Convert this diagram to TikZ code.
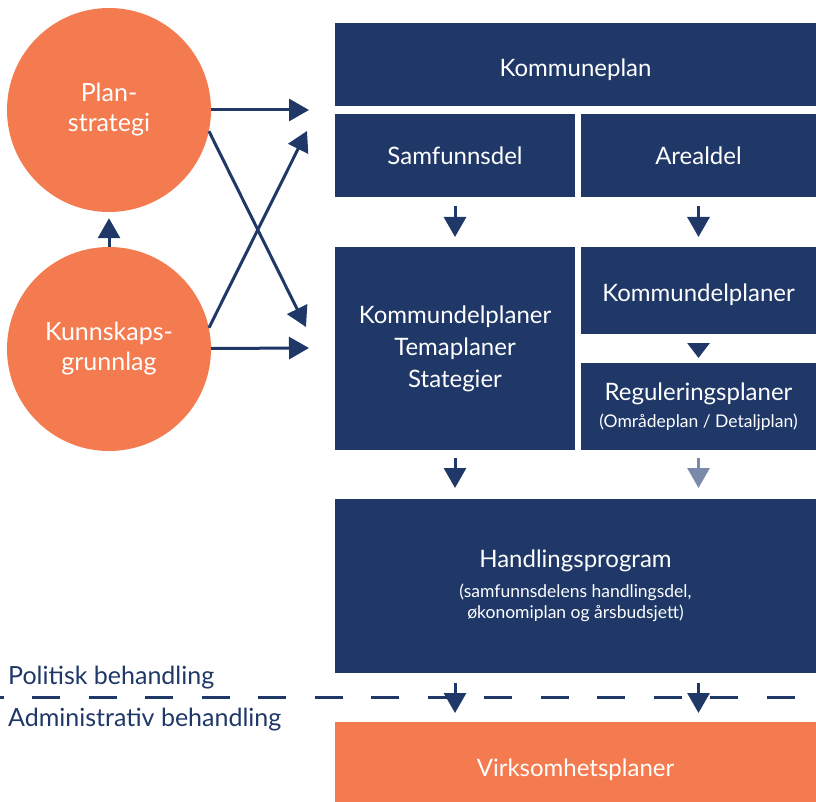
\documentclass[tikz,border=0pt]{standalone}
\usepackage{fontspec}
\setmainfont{Lato}
\usepackage{tikz}
\usetikzlibrary{arrows.meta}

\definecolor{navy}{HTML}{1F3868}
\definecolor{orng}{HTML}{F37B4F}
\definecolor{greyblue}{HTML}{7B8AAA}

\newcommand{\bigtxt}[1]{{\fontsize{24}{28}\selectfont #1}}
\newcommand{\lowtxt}[2]{\raisebox{-#1}[\height][\depth]{#2}}

\tikzset{
  box/.style={fill=navy, text=white, inner sep=0pt, outer sep=0pt,
    anchor=north west, align=center, font=\fontsize{24}{32}\selectfont},
  subbox/.style={box, font=\fontsize{17.5}{21}\selectfont},
  obox/.style={box, fill=orng},
  circ/.style={circle, fill=orng, text=white, minimum size=204pt,
    inner sep=0pt, align=center, font=\fontsize{25}{30}\selectfont},
  arr/.style={navy, line width=3pt, -{Triangle[width=22pt,length=20pt]}},
  side/.style={text=navy, anchor=west, inner sep=0pt,
    font=\fontsize{25}{28}\selectfont}
}

\begin{document}
\begin{tikzpicture}[x=1pt, y=-1pt]
      \useasboundingbox (0,0) rectangle (816,802);
      % boxes
      \node[box, minimum width=481pt, minimum height=83pt] (kplan) at (335,23) {\lowtxt{5pt}{Kommuneplan}};
      \node[box, minimum width=240pt, minimum height=83pt] (samf) at (335,114) {Samfunnsdel};
      \node[box, minimum width=235pt, minimum height=83pt] (areal) at (581,114) {Arealdel};
      \node[box, minimum width=240pt, minimum height=203pt] (tema) at (335,247) {Kommundelplaner\\Temaplaner\\Stategier};
      \node[box, minimum width=235pt, minimum height=87pt] (kdp) at (581,247) {\lowtxt{4pt}{Kommundelplaner}};
      \node[subbox, minimum width=235pt, minimum height=87pt] (reg) at (581,363)
        {\bigtxt{Reguleringsplaner}\\[6pt](Områdeplan / Detaljplan)};
      \node[subbox, minimum width=481pt, minimum height=174pt] (hand) at (335,499)
        {\bigtxt{Handlingsprogram}\\[9pt](samfunnsdelens handlingsdel,\\økonomiplan og årsbudsjett)};
      \node[obox, minimum width=481pt, minimum height=92pt] (virk) at (335,722) {\lowtxt{2pt}{Virksomhetsplaner}};

      % circles
      \node[circ] (plan) at (109,110) {Plan-\\strategi};
      \node[circ] (kunn) at (109,349) {Kunnskaps-\\grunnlag};

      \coordinate (in1) at (309,110);
      \coordinate (in2) at (307,131);
      \coordinate (in3) at (306,327);
      \coordinate (in4) at (309,348);

      \draw[arr, shorten >=6pt] (kunn) -- (plan);
      \draw[arr] (plan) -- (in1);
      \draw[arr] (plan.-12) -- (in3);
      \draw[arr] (kunn.12) -- (in2);
      \draw[arr] (kunn) -- (in4);

      % down arrows
      \draw[arr, shorten <=9pt, shorten >=10pt] (samf) -- (tema);
      \draw[arr, shorten <=9pt, shorten >=10pt] (areal) -- (kdp);
      \draw[arr, -{Triangle[width=22pt,length=15pt]}, shorten <=9pt, shorten >=5pt] (kdp) -- (reg);
      \draw[arr, shorten <=8pt, shorten >=11pt] (tema.south) -- (tema.south |- hand.north);
      \draw[arr, greyblue, shorten <=8pt, shorten >=11pt] (reg.south) -- (reg.south |- hand.north);

      % political / administrative split
      \draw[navy, line width=3pt, dash pattern=on 28pt off 28.5pt, dash phase=24.5pt] (0,697) -- (816,697);
      \node[side] (pol) at (8,678) {Politisk behandling};
      \node[side] (adm) at (8,720) {Administrativ behandling};
      \foreach \n in {tema, reg} {
        \draw[arr, shorten <=10pt, shorten >=9pt] (\n.south |- hand.south) -- (\n.south |- virk.north);
      }
\end{tikzpicture}
\end{document}
